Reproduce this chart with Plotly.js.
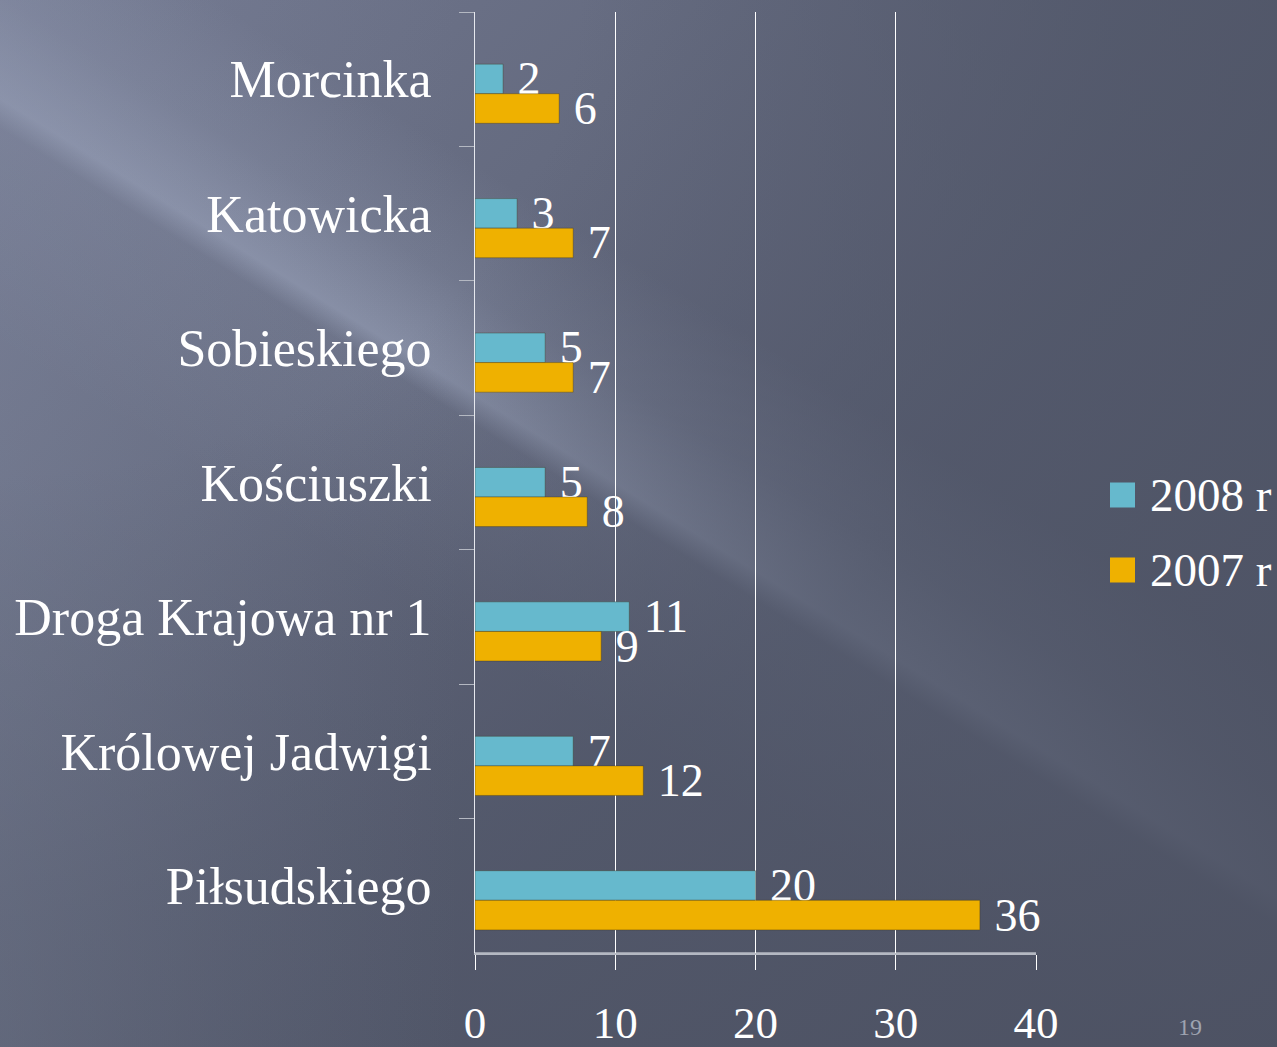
<!DOCTYPE html>
<html>
<head>
<meta charset="utf-8">
<script src="https://cdn.plot.ly/plotly-3.0.1.min.js"></script>
<style>
html,body{margin:0;padding:0;width:1277px;height:1047px;overflow:hidden;}
body{
  background:
    linear-gradient(90deg, rgba(135,143,165,0.28) 0%, rgba(135,143,165,0.12) 18%, rgba(135,143,165,0) 36%),
    radial-gradient(ellipse farthest-corner at 0% 0%, rgba(80,86,104,0) 32%, rgba(80,86,104,0.7) 62%, rgba(77,82,99,0.95) 100%),
    linear-gradient(212deg, rgba(170,180,205,0) 0%, rgba(170,180,205,0) 36%, rgba(170,180,205,0.18) 43%, rgba(175,185,210,0.45) 48.6%, rgba(170,180,205,0.1) 50.2%, rgba(170,180,205,0.06) 56%, rgba(170,180,205,0) 62%),
    linear-gradient(135deg, #727890 0%, #656b80 30%, #585d71 60%, #4e5366 100%);
}
#chart{width:1277px;height:1047px;}
</style>
</head>
<body>
<div id="chart"></div>
<script>
const categories = ['Morcinka','Katowicka','Sobieskiego','Kościuszki','Droga Krajowa nr 1','Królowej Jadwigi','Piłsudskiego'];
const seriesNames = ['2008 r','2007 r'];
const values2008 = [2,3,5,5,11,7,20];
const values2007 = [6,7,7,8,9,12,36];
const xTickValues = [0,10,20,30,40];
const pageNumber = '19';

const colors = ['#66b9cd','#efb100'];
const serif = 'Liberation Serif, Times New Roman, serif';

function barTrace(vals, name, color, offset){
  return {
    type:'bar', orientation:'h', x:vals, y:categories, name:name,
    offset:offset, width:0.22,
    marker:{color:color, line:{color:'rgba(60,50,20,0.35)', width:1}},
    text:vals.map(v=>'\u00A0'+v), textposition:'outside', constraintext:'none',
    cliponaxis:false,
    textfont:{family:serif, size:46, color:'#ffffff'},
    hoverinfo:'x+y', showlegend:false
  };
}

const data = [
  barTrace(values2008, seriesNames[0], colors[0], -0.112),
  barTrace(values2007, seriesNames[1], colors[1], 0.108)
];

const shapes = [
  {type:'line', xref:'paper', yref:'paper', x0:0, x1:1, y0:0, y1:0, layer:'below',
   line:{color:'#b4b8c2', width:1.5}}
];
const annotations = [];
const legendTop = [495, 570];
seriesNames.forEach((n,i)=>{
  const yc = legendTop[i];
  shapes.push({type:'rect', xref:'paper', yref:'paper', layer:'above',
    x0:(1110-475)/561, x1:(1135-475)/561,
    y0:(953-(yc+12.5))/941, y1:(953-(yc-12.5))/941,
    fillcolor:colors[i], line:{width:0}});
  annotations.push({xref:'paper', yref:'paper', x:(1148-475)/561, y:(953-yc)/941,
    xanchor:'left', yanchor:'middle', showarrow:false, text:n,
    font:{family:serif, size:47, color:'#ffffff'}});
});
annotations.push({xref:'paper', yref:'paper', x:(1190-475)/561, y:(953-1027)/941,
  xanchor:'center', yanchor:'middle', showarrow:false, text:pageNumber,
  font:{family:serif, size:24, color:'#9ea3b0'}});

const layout = {
  width:1277, height:1047,
  margin:{l:475, r:241, t:12, b:94, pad:0},
  paper_bgcolor:'rgba(0,0,0,0)', plot_bgcolor:'rgba(0,0,0,0)',
  barmode:'overlay',
  showlegend:false,
  xaxis:{range:[0,40], tickvals:xTickValues, ticktext:xTickValues.map(String),
    showgrid:true, gridcolor:'#ffffff', gridwidth:1,
    zeroline:false, showline:true, linecolor:'#b4b8c2', linewidth:1.5,
    ticks:'outside', ticklen:15, tickcolor:'#ffffff', tickwidth:1,
    ticklabelstandoff:14,
    tickfont:{family:serif, size:45, color:'#ffffff'}, fixedrange:true},
  yaxis:{type:'category', categoryorder:'array', categoryarray:categories,
    range:[6.5,-0.5], tickson:'boundaries',
    showline:true, linecolor:'#e6e8ee', linewidth:1,
    ticks:'outside', ticklen:15, tickcolor:'#b4b8c2', tickwidth:1,
    ticklabelstandoff:32,
    showgrid:false, zeroline:false,
    tickfont:{family:serif, size:52, color:'#ffffff'}, fixedrange:true},
  shapes:shapes,
  annotations:annotations,
  font:{family:serif, color:'#ffffff'}
};

Plotly.newPlot('chart', data, layout, {displayModeBar:false, staticPlot:true});
</script>
</body>
</html>
